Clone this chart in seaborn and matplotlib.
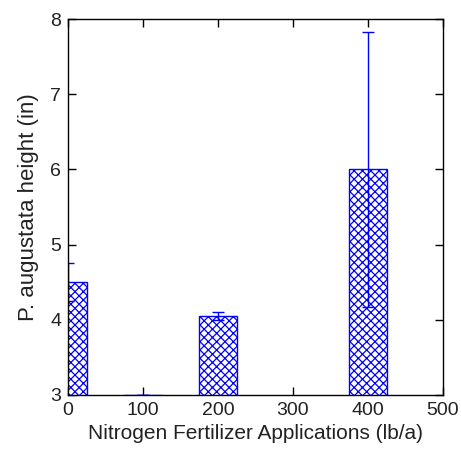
import pandas as pd
import matplotlib
matplotlib.use("Agg")
import matplotlib.pyplot as plt
import seaborn as sns

# Données
nitrogen = [0, 100, 200, 400]
height = [4.5, 3.0, 4.05, 6.0]
err = [0.25, 0.0, 0.05, 1.83]

df = pd.DataFrame({"N": nitrogen, "h": height})

sns.set_style("ticks")
plt.rcParams['font.family'] = ['Liberation Sans', 'DejaVu Sans']
plt.rcParams['hatch.linewidth'] = 0.9
plt.rcParams['hatch.color'] = 'blue'

fig = plt.figure(figsize=(4.61, 4.55), dpi=100)
ax = fig.add_axes([0.1475, 0.132, 0.8135, 0.826])

sns.barplot(data=df, x="N", y="h", native_scale=True, width=0.5,
            color="white", edgecolor="blue", linewidth=1.0, hatch="xxxx",
            errorbar=None, ax=ax)

ax.errorbar(nitrogen, height, yerr=err, fmt="none", ecolor="blue",
            elinewidth=1, capsize=4, capthick=1)

ax.set_xlim(0, 500)
ax.set_ylim(3, 8)
ax.set_xticks([0, 100, 200, 300, 400, 500])
ax.set_yticks([3, 4, 5, 6, 7, 8])
ax.tick_params(direction="in", top=True, right=True, length=6, width=1,
               labelsize=14, colors="black", labelcolor="#222222", pad=5)
for s in ax.spines.values():
    s.set_visible(True)
    s.set_color("black")
    s.set_linewidth(1)

ax.set_xlabel("Nitrogen Fertilizer Applications (lb/a)", fontsize=15, color="#222222", labelpad=4)
ax.set_ylabel("P. augustata height (in)", fontsize=16, color="#222222", labelpad=8)

fig.savefig("out.png", dpi=100)
